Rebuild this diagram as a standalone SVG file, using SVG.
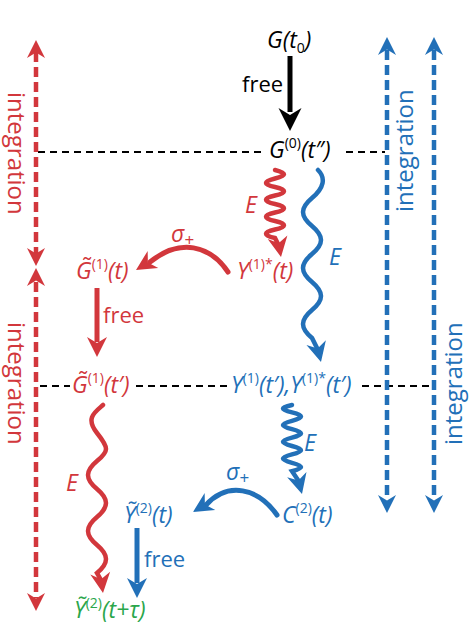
<svg xmlns="http://www.w3.org/2000/svg" xmlns:xlink="http://www.w3.org/1999/xlink" width="474" height="636" viewBox="0 0 474 636">
<defs>
<style>
text{font-family:"Open Sans","Noto Sans","DejaVu Sans",sans-serif;font-size:23px}
.v{font-style:italic}
.s{font-size:14px;font-style:normal}
.p{font-size:17px;font-style:normal}
.f{font-size:22px}
.e{font-size:23px}
.i{font-size:24px}
.r{fill:#d2373c}.b{fill:#2270b8}.k{fill:#000}.g{fill:#2aa64b}
.dash{fill:none;stroke:#000;stroke-width:2;stroke-dasharray:7 5}
.rl{fill:none;stroke:#d2373c}.bl{fill:none;stroke:#2270b8}
.dr{stroke-width:4.5;stroke-dasharray:10 5}
.w{stroke-width:4.5;stroke-linecap:round}
.st{stroke-width:5}
</style>
<path id="ah" d="M0,0 L-20,-10 L-14,0 L-20,10 Z"/>
</defs>
<rect width="474" height="636" fill="#fff"/>

<g id="connectors">
  <path class="dash" d="M38,152 H266 M346,152 H385"/>
  <path class="dash" d="M40,386 H70 M136,386 H228 M362,386 H433"/>

  <path class="rl dr" d="M36,52 V254"/>
  <use xlink:href="#ah" class="r" transform="translate(36,40) rotate(-90) scale(0.9)"/>
  <use xlink:href="#ah" class="r" transform="translate(36,266) rotate(90) scale(0.9)"/>
  <path class="rl dr" d="M36,282 V598"/>
  <use xlink:href="#ah" class="r" transform="translate(36,268) rotate(-90) scale(0.9)"/>
  <use xlink:href="#ah" class="r" transform="translate(36,611) rotate(90) scale(0.9)"/>

  <path class="bl dr" d="M387,50 V500"/>
  <use xlink:href="#ah" class="b" transform="translate(387,37) rotate(-90) scale(0.9)"/>
  <use xlink:href="#ah" class="b" transform="translate(387,513) rotate(90) scale(0.9)"/>
  <path class="bl dr" d="M434,50 V500"/>
  <use xlink:href="#ah" class="b" transform="translate(434,37) rotate(-90) scale(0.9)"/>
  <use xlink:href="#ah" class="b" transform="translate(434,513) rotate(90) scale(0.9)"/>

  <path d="M290,56 V112" stroke="#000" stroke-width="5" fill="none"/>
  <use xlink:href="#ah" class="k" transform="translate(290,131) rotate(90) scale(1.15)"/>

  <path class="rl w" d="M275,170 C287,173.06 287,175.44 275,178.5 S263,184.44 275,187 S287,192.94 275,195.5 S263,201.44 275,204 S287,209.94 275,212.5 S263,218.44 275,221 S287,226.94 275,229.5 S263,235.44 275,238 L279,246"/>
  <use xlink:href="#ah" class="r" transform="translate(281,257) rotate(80)"/>

  <path class="bl w" d="M318,170 C326,178 324,187.92 312,198 S300,215.92 312,226 S324,243.92 312,254 S300,271.92 312,282 S324,299.92 312,310 S300,327.92 312,338 L318,350"/>
  <use xlink:href="#ah" class="b" transform="translate(321,362) rotate(76)"/>

  <path class="rl st" d="M228,272 C210,245 180,238 150,262" stroke-linecap="round"/>
  <use xlink:href="#ah" class="r" transform="translate(136,270) rotate(148)"/>

  <path d="M97,288 V342" stroke="#d2373c" stroke-width="5" fill="none"/>
  <use xlink:href="#ah" class="r" transform="translate(97,357) rotate(90)"/>

  <path class="rl w" d="M103,405 C95,412 85,418 97,433 S109,451 97,461 S85,479 97,489 S109,507 97,517 S85,535 97,545 S109,563 97,573 L101,580"/>
  <use xlink:href="#ah" class="r" transform="translate(103,593) rotate(82)"/>

  <path class="bl w" d="M292,405 C280,407.5 280,409.6 292,412.4 S304,417.6 292,420.8 S280,426 292,429.2 S304,434.4 292,437.6 S280,442.8 292,446 S304,451.2 292,454.4 S280,459.6 292,462.8 S304,468 292,471.2 L298,480"/>
  <use xlink:href="#ah" class="b" transform="translate(302,494) rotate(75)"/>

  <path class="bl st" d="M277,515 C258,488 228,481 206,505" stroke-linecap="round"/>
  <use xlink:href="#ah" class="b" transform="translate(193,512) rotate(148)"/>

  <path d="M137,528 V583" stroke="#2270b8" stroke-width="5" fill="none"/>
  <use xlink:href="#ah" class="b" transform="translate(137,598) rotate(90)"/>
</g>

<g id="labels">
  <text class="k f" x="242" y="92">free</text>
  <text class="r v e" x="245" y="213">E</text>
  <text class="b v e" x="329" y="265">E</text>
  <text class="r v" x="171" y="242">σ<tspan class="p" dy="4">+</tspan></text>
  <text class="r f" x="103" y="323">free</text>
  <text class="r v e" x="66" y="491">E</text>
  <text class="b v e" x="304" y="451">E</text>
  <text class="b v" x="226" y="480">σ<tspan class="p" dy="4">+</tspan></text>
  <text class="b f" x="144" y="567">free</text>
  <text class="r i" transform="translate(8,92) rotate(90)">integration</text>
  <text class="r i" transform="translate(8,322) rotate(90)">integration</text>
  <text class="b i" transform="translate(413,212) rotate(-90)">integration</text>
  <text class="b i" transform="translate(462,445) rotate(-90)">integration</text>
</g>

<g id="n-G0">
  <text class="k v" x="267" y="48">G(t<tspan class="s" dy="5">0</tspan><tspan dy="-5">)</tspan></text>
</g>
<g id="n-G0tpp">
  <text class="k v" x="269" y="158">G<tspan class="s" dy="-10">(0)</tspan><tspan dy="10">(t″)</tspan></text>
</g>
<g id="n-Y1star">
  <text class="r v" x="237" y="279">Y<tspan class="s" dy="-10">(1)*</tspan><tspan dy="10">(t)</tspan></text>
</g>
<g id="n-Gt1">
  <text class="r v" x="76" y="279">G̃<tspan class="s" dy="-10">(1)</tspan><tspan dy="10">(t)</tspan></text>
</g>
<g id="n-Gt1p">
  <text class="r v" x="72" y="393">G̃<tspan class="s" dy="-10">(1)</tspan><tspan dy="10">(t′)</tspan></text>
</g>
<g id="n-Y1p">
  <text class="b v" x="231" y="393">Y<tspan class="s" dy="-10">(1)</tspan><tspan dy="10">(t′),Y</tspan><tspan class="s" dy="-10">(1)*</tspan><tspan dy="10">(t′)</tspan></text>
</g>
<g id="n-C2">
  <text class="b v" x="282" y="523">C<tspan class="s" dy="-10">(2)</tspan><tspan dy="10">(t)</tspan></text>
</g>
<g id="n-Yt2">
  <text class="b v" x="124" y="523">Ỹ<tspan class="s" dy="-10">(2)</tspan><tspan dy="10">(t)</tspan></text>
</g>
<g id="n-Yt2tau">
  <text class="g v" x="74" y="618">Ỹ<tspan class="s" dy="-10">(2)</tspan><tspan dy="10">(t+τ)</tspan></text>
</g>
</svg>
